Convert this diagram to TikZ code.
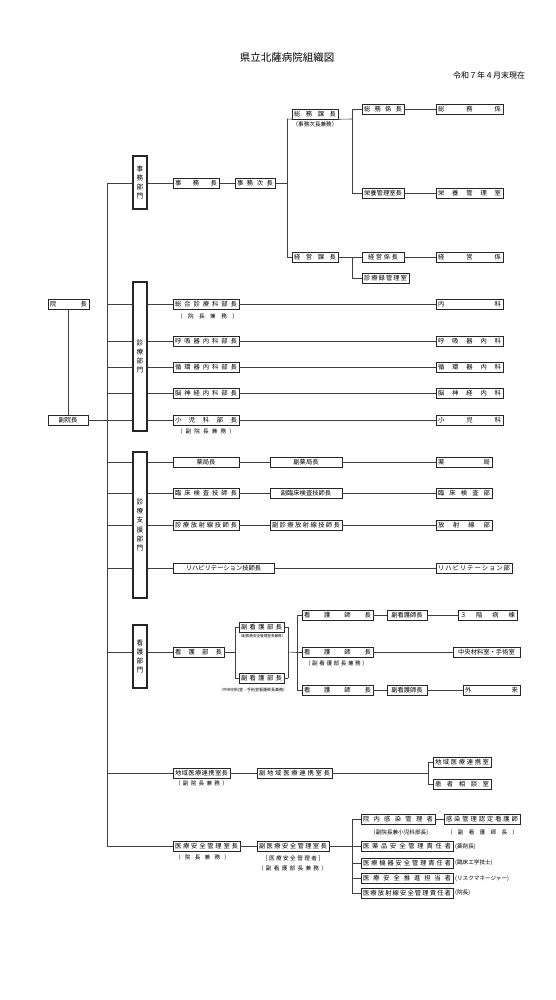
\documentclass[tikz,border=0pt]{standalone}
\usepackage{fontspec}
\setmainfont{Noto Sans CJK JP}
\usetikzlibrary{calc,shadows}
\makeatletter
\def\spr#1{\spr@a#1\@nil}
\def\spr@a#1#2{#1\ifx#2\@nil\else\hfill\expandafter\spr@a\expandafter#2\fi}
\makeatother
\tikzset{
  boxa/.style={draw=black!85,line width=0.5pt,fill=white,inner sep=0pt,
    font=\fontsize{6.3}{7}\selectfont,
    drop shadow={shadow xshift=0.6pt,shadow yshift=-0.6pt,opacity=0.8,fill=black!70}},
  dept/.style={draw=black!85,line width=1.4pt,fill=white,inner sep=0pt,minimum width=14,
    align=center,font=\fontsize{6.6}{9.3}\selectfont},
  anno/.style={inner sep=0pt,font=\fontsize{5.6}{6}\selectfont},
  ln/.style={draw=black!75,line width=0.6pt}
}
\newcommand{\Bx}[6][10]{\node[boxa,minimum width={#4-#3},minimum height={#1}] (#2) at ({(#3+#4)/2},#5) {\makebox[\dimexpr #4pt-#3pt-4pt\relax]{#6}};}
\newcommand{\An}[5]{\node[anno] (#1) at ({(#2+#3)/2},#4) {\makebox[\dimexpr #3pt-#2pt\relax]{#5}};}
\newcommand{\Dp}[4]{\node[dept,minimum height={#3-#2}] (#1) at (140,{(#2+#3)/2}) {#4};}
\begin{document}
\begin{tikzpicture}[x=1pt,y=-1pt]
\useasboundingbox (0,0) rectangle (556,1000);
% titles
\node[font=\fontsize{10.5}{12}\selectfont] (title) at (287,58) {県立北薩病院組織図};
\node[font=\fontsize{8}{9}\selectfont] (date) at (489,75) {令和７年４月末現在};
% left
\Bx{incho}{48}{89}{304}{\spr{院長}}
\Bx{fukuin}{48}{88}{420}{副院長}
% departments
\Dp{jimubu}{156}{209}{事\\務\\部\\門}
\Dp{shinryo}{282}{431}{診\\療\\部\\門}
\Dp{shien}{452}{598}{診\\療\\支\\援\\部\\門}
\Dp{kango}{625}{688}{看\\護\\部\\門}
% 事務
\Bx{jimucho}{173}{219}{183}{\spr{事務長}}
\Bx{jimujicho}{235}{275}{183}{\spr{事務次長}}
\Bx{soumuka}{292}{338}{114}{\spr{総務課長}}
\An{soumukaA}{293}{337}{124.5}{\spr{（事務次長兼務）}}
\Bx{soumukakari}{362}{404}{109}{\spr{総務係長}}
\Bx{soumu}{436}{503}{109}{\spr{総務係}}
\Bx{eiyocho}{362}{404}{193.5}{\spr{栄養管理室長}}
\Bx{eiyo}{436}{503}{193.5}{\spr{栄養管理室}}
\Bx{keieika}{292}{338}{257}{\spr{経営課長}}
\Bx{keieikakari}{362}{404}{257}{\makebox[30pt]{\spr{経営係長}}}
\Bx{keiei}{436}{503}{257}{\spr{経営係}}
\Bx{roku}{362}{409}{278}{\spr{診療録管理室}}
% 診療
\Bx{sogo}{173}{239}{304}{\spr{総合診療科部長}}
\An{sogoA}{177}{238}{316}{\spr{（院長兼務）}}
\Bx{naika}{436}{503}{304}{\spr{内科}}
\Bx{kokyucho}{173}{239}{341.5}{\spr{呼吸器内科部長}}
\Bx{kokyu}{436}{503}{341.5}{\spr{呼吸器内科}}
\Bx{junkancho}{173}{239}{367.5}{\spr{循環器内科部長}}
\Bx{junkan}{436}{503}{367.5}{\spr{循環器内科}}
\Bx{noshincho}{173}{239}{393.5}{\spr{脳神経内科部長}}
\Bx{noshin}{436}{503}{393.5}{\spr{脳神経内科}}
\Bx{shonicho}{173}{239}{420}{\spr{小児科部長}}
\An{shoniA}{177}{235}{431}{\spr{（副院長兼務）}}
\Bx{shoni}{436}{503}{420}{\spr{小児科}}
% 診療支援
\Bx{yakucho}{173}{239}{462.5}{薬局長}
\Bx{fyakucho}{270}{342}{462.5}{副薬局長}
\Bx{yaku}{436}{492}{462.5}{\spr{薬局}}
\Bx{rinshocho}{173}{239}{493.5}{\spr{臨床検査技師長}}
\Bx{frinshocho}{270}{342}{493.5}{副臨床検査技師長}
\Bx{rinsho}{436}{492}{493.5}{\spr{臨床検査部}}
\Bx{hoshacho}{173}{239}{525.5}{\spr{診療放射線技師長}}
\Bx{fhoshacho}{270}{342}{525.5}{\spr{副診療放射線技師長}}
\Bx{hosha}{436}{492}{525.5}{\spr{放射線部}}
\Bx{rihacho}{173}{274}{568}{リハビリテーション技師長}
\Bx{riha}{436}{512}{568}{\spr{リハビリテーション部}}
% 看護
\Bx{kangobucho}{173}{224}{652}{\spr{看護部長}}
\Bx{fk1}{239}{284}{627}{\spr{副看護部長}}
\node[anno,font=\fontsize{3.6}{4}\selectfont] (fk1A) at (262,636.5) {（副医療安全管理室長兼務）};
\Bx{fk2}{239}{284}{678}{\spr{副看護部長}}
\node[anno,font=\fontsize{4}{4.5}\selectfont] (fk2A) at (253,689.5) {（中央材料室・手術室看護師長兼務）};
\Bx{ks1}{302}{373}{615}{\spr{看護師長}}
\Bx{ks2}{302}{373}{652.5}{\spr{看護師長}}
\An{ks2A}{305}{368}{663}{\spr{（副看護部長兼務）}}
\Bx{ks3}{302}{373}{690}{\spr{看護師長}}
\Bx{fks1}{387}{427}{615}{副看護師長}
\Bx{fks3}{387}{427}{690}{副看護師長}
\Bx{byoto}{458}{517}{615}{\spr{３階病棟}}
\Bx{chuo}{453}{520}{652.5}{中央材料室・手術室}
\Bx{gairai}{463}{520}{690}{\spr{外来}}
% 地域
\Bx{chiiki}{173}{230}{773.5}{\spr{地域医療連携室長}}
\An{chiikiA}{175}{228}{783.5}{\spr{（副院長兼務）}}
\Bx{fchiiki}{257}{332}{773.5}{\spr{副地域医療連携室長}}
\Bx{renkei}{433}{491}{762.5}{\spr{地域医療連携室}}
\Bx{sodan}{433}{491}{784}{\spr{患者相談室}}
% 安全
\Bx{anzen}{173}{240}{846.5}{\spr{医療安全管理室長}}
\An{anzenA}{175}{230}{857.5}{\spr{（院長兼務）}}
\Bx{fanzen}{257}{329}{846.5}{\spr{副医療安全管理室長}}
\An{fanzenA}{262}{324}{858}{\spr{［医療安全管理者］}}
\An{fanzenB}{258}{327}{868}{\spr{（副看護部長兼務）}}
\Bx{kansen}{361}{435}{819.5}{\spr{院内感染管理者}}
\node[anno] (kansenA) at (401,832) {（副院長兼小児科部長）};
\Bx{nintei}{444}{520}{819.5}{\spr{感染管理認定看護師}}
\An{ninteiA}{447}{518}{832}{\spr{（副看護師長）}}
\Bx{iyaku}{361}{453}{846.5}{\spr{医薬品安全管理責任者}}
\node[anno,anchor=west] (iyakuA) at (455,846.5) {(薬剤長)};
\Bx{kiki}{361}{453}{863}{\spr{医療機器安全管理責任者}}
\node[anno,anchor=west] (kikiA) at (455,863) {(臨床工学技士)};
\Bx{suishin}{361}{453}{878.5}{\spr{医療安全推進担当者}}
\node[anno,anchor=west] (suishinA) at (455,878.5) {(リスクマネージャー)};
\Bx{hoshaK}{361}{453}{893}{\spr{医療放射線安全管理責任者}}
\node[anno,anchor=west] (hoshaKA) at (455,893) {(院長)};
% ---------- connectors ----------
\draw[ln] (incho.south) -- (incho.south |- fukuin.north);
\coordinate (r1) at (107,183);
\coordinate (r2) at (107,304);
\coordinate (r3) at (107,341.5);
\coordinate (r4) at (107,367.5);
\coordinate (r5) at (107,393.5);
\coordinate (r6) at (107,420);
\coordinate (r7) at (107,462.5);
\coordinate (r8) at (107,493.5);
\coordinate (r9) at (107,525.5);
\coordinate (r10) at (107,568);
\coordinate (r11) at (107,652);
\coordinate (r12) at (107,773.5);
\coordinate (r13) at (107,846.5);
\draw[ln] (r1) -- (r13);
\draw[ln] (fukuin.east) -- (r6);
% 事務
\draw[ln] (r1) -- (jimubu.west |- r1);
\draw[ln] (jimubu.east |- r1) -- (jimucho.west);
\draw[ln] (jimucho.east) -- (jimujicho.west);
\coordinate (j1) at (287,183);
\coordinate (j1t) at (287,119);
\coordinate (j1b) at (287,257);
\coordinate (j2t) at (352,109);
\coordinate (j2a) at (352,119);
\coordinate (j2m) at (352,193.5);
\draw[ln] (jimujicho.east) -- (j1);
\draw[ln] (j1t) -- (j1b);
\draw[ln] (j1t) -- (soumuka.south west);
\draw[ln] (soumuka.south east) -- (j2a);
\draw[ln] (j2t) -- (j2m);
\draw[ln] (j2t) -- (soumukakari.west);
\draw[ln] (soumukakari.east) -- (soumu.west);
\draw[ln] (j2m) -- (eiyocho.west);
\draw[ln] (eiyocho.east) -- (eiyo.west);
\draw[ln] (j1b) -- (keieika.west);
\coordinate (j3) at (352,257);
\coordinate (j3b) at (352,278);
\draw[ln] (keieika.east) -- (j3);
\draw[ln] (j3) -- (j3b);
\draw[ln] (j3) -- (keieikakari.west);
\draw[ln] (j3b) -- (roku.west);
\draw[ln] (keieikakari.east) -- (keiei.west);
% 診療
\foreach \r/\a/\b in {r2/sogo/naika,r3/kokyucho/kokyu,r4/junkancho/junkan,r5/noshincho/noshin,r6/shonicho/shoni}{
  \draw[ln] (\r) -- (shinryo.west |- \r);
  \draw[ln] (shinryo.east |- \r) -- (\a.west);
  \draw[ln] (\a.east) -- (\b.west);
}
% 支援
\foreach \r/\a/\b/\c in {r7/yakucho/fyakucho/yaku,r8/rinshocho/frinshocho/rinsho,r9/hoshacho/fhoshacho/hosha}{
  \draw[ln] (\r) -- (shien.west |- \r);
  \draw[ln] (shien.east |- \r) -- (\a.west);
  \draw[ln] (\a.east) -- (\b.west);
  \draw[ln] (\b.east) -- (\c.west);
}
\draw[ln] (r10) -- (shien.west |- r10);
\draw[ln] (shien.east |- r10) -- (rihacho.west);
\draw[ln] (rihacho.east) -- (riha.west);
% 看護
\draw[ln] (r11) -- (kango.west |- r11);
\draw[ln] (kango.east |- r11) -- (kangobucho.west);
\coordinate (k1) at (235,652);
\coordinate (k1t) at (235,627);
\coordinate (k1b) at (235,678);
\coordinate (k2) at (288,652);
\coordinate (k2t) at (288,627);
\coordinate (k2b) at (288,678);
\coordinate (k3) at (297,652.5);
\coordinate (k3t) at (297,615);
\coordinate (k3b) at (297,690);
\draw[ln] (kangobucho.east) -- (k1);
\draw[ln] (k1t) -- (k1b);
\draw[ln] (k1t) -- (fk1.west);
\draw[ln] (k1b) -- (fk2.west);
\draw[ln] (fk1.east) -- (k2t);
\draw[ln] (fk2.east) -- (k2b);
\draw[ln] (k2t) -- (k2b);
\draw[ln] (k2) -- (k3);
\draw[ln] (k3t) -- (k3b);
\draw[ln] (k3t) -- (ks1.west);
\draw[ln] (k3) -- (ks2.west);
\draw[ln] (k3b) -- (ks3.west);
\draw[ln] (ks1.east) -- (fks1.west);
\draw[ln] (fks1.east) -- (byoto.west);
\draw[ln] (ks2.east) -- (chuo.west);
\draw[ln] (ks3.east) -- (fks3.west);
\draw[ln] (fks3.east) -- (gairai.west);
% 地域
\draw[ln] (r12) -- (chiiki.west);
\draw[ln] (chiiki.east) -- (fchiiki.west);
\coordinate (c1) at (428,773.5);
\coordinate (c1t) at (428,762.5);
\coordinate (c1b) at (428,784);
\draw[ln] (fchiiki.east) -- (c1);
\draw[ln] (c1t) -- (c1b);
\draw[ln] (c1t) -- (renkei.west);
\draw[ln] (c1b) -- (sodan.west);
% 安全
\draw[ln] (r13) -- (anzen.west);
\draw[ln] (anzen.east) -- (fanzen.west);
\coordinate (s1) at (352,846.5);
\coordinate (s1t) at (352,819.5);
\coordinate (s1b) at (352,893);
\coordinate (s2) at (352,863);
\coordinate (s3) at (352,878.5);
\draw[ln] (fanzen.east) -- (s1);
\draw[ln] (s1t) -- (s1b);
\draw[ln] (s1t) -- (kansen.west);
\draw[ln] (kansen.east) -- (nintei.west);
\draw[ln] (s1) -- (iyaku.west);
\draw[ln] (s2) -- (kiki.west);
\draw[ln] (s3) -- (suishin.west);
\draw[ln] (s1b) -- (hoshaK.west);
\end{tikzpicture}
\end{document}
